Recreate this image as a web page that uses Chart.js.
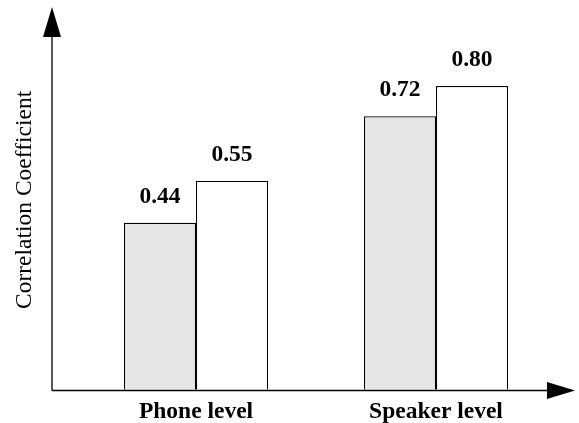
<!DOCTYPE html>
<html>
<head>
<meta charset="utf-8">
<script src="https://cdn.jsdelivr.net/npm/chart.js@4.4.1/dist/chart.umd.min.js"></script>
<style>
  html, body { margin: 0; padding: 0; background: #fff; }
</style>
</head>
<body>
<canvas id="myChart" width="579" height="423"></canvas>
<script>
const categories = ["Phone level", "Speaker level"];
const grayValues = [0.44, 0.72];
const whiteValues = [0.55, 0.80];
const yTitle = "Correlation Coefficient";
const yMin = 0;
const yMax = 1.0;

const serif = "'Liberation Serif', 'Times New Roman', serif";

// axes drawn by hand so they can carry arrow heads
const arrowAxes = {
  id: "arrowAxes",
  afterDatasetsDraw(chart) {
    const { ctx, chartArea } = chart;
    const x0 = chartArea.left - 24;
    const y0 = Math.round(chartArea.bottom) + 0.5;
    const topTip = chartArea.top - 3;
    const rightTip = chartArea.right + 19;
    ctx.save();
    ctx.strokeStyle = "#000";
    ctx.fillStyle = "#000";
    ctx.lineWidth = 1.3;
    ctx.beginPath();
    ctx.moveTo(x0, y0);
    ctx.lineTo(x0, topTip + 20);
    ctx.moveTo(x0, y0);
    ctx.lineTo(rightTip - 20, y0);
    ctx.stroke();
    // up arrow
    ctx.beginPath();
    ctx.moveTo(x0, topTip);
    ctx.lineTo(x0 - 9, topTip + 30);
    ctx.lineTo(x0 + 9, topTip + 30);
    ctx.closePath();
    ctx.fill();
    // right arrow
    ctx.beginPath();
    ctx.moveTo(rightTip, y0);
    ctx.lineTo(rightTip - 28, y0 - 8.5);
    ctx.lineTo(rightTip - 28, y0 + 8.5);
    ctx.closePath();
    ctx.fill();
    ctx.restore();
  },
};

const valueLabels = {
  id: "valueLabels",
  afterDatasetsDraw(chart) {
    const { ctx } = chart;
    ctx.save();
    ctx.fillStyle = "#000";
    ctx.font = "bold 23.5px " + serif;
    ctx.textAlign = "center";
    ctx.textBaseline = "alphabetic";
    chart.data.datasets.forEach((ds, i) => {
      chart.getDatasetMeta(i).data.forEach((bar, j) => {
        ctx.fillText(ds.data[j].toFixed(2), bar.x, bar.y - 20);
      });
    });
    ctx.restore();
  },
};

new Chart(document.getElementById("myChart"), {
  type: "bar",
  data: {
    labels: categories,
    datasets: [
      {
        data: grayValues,
        backgroundColor: "#e5e5e5",
        borderColor: "#000",
        borderWidth: 1.2,
      },
      {
        data: whiteValues,
        backgroundColor: "#fff",
        borderColor: "#000",
        borderWidth: 1.2,
      },
    ],
  },
  options: {
    responsive: false,
    animation: false,
    barPercentage: 1,
    categoryPercentage: 0.6,
    layout: {
      padding: { top: 10, left: 7, right: 23, bottom: -11 },
    },
    plugins: {
      legend: { display: false },
      tooltip: { enabled: false },
    },
    scales: {
      x: {
        grid: { display: false, drawTicks: false },
        border: { display: false },
        ticks: {
          color: "#000",
          padding: 8,
          font: { family: serif, size: 23.5, weight: "bold" },
        },
      },
      y: {
        min: yMin,
        max: yMax,
        grid: { display: false, drawTicks: false },
        border: { display: false },
        ticks: { display: false },
        title: {
          display: true,
          text: yTitle,
          color: "#000",
          font: { family: serif, size: 23.5 },
        },
        afterFit(scale) {
          scale.width = 69;
        },
      },
    },
  },
  plugins: [arrowAxes, valueLabels],
});
</script>
</body>
</html>
